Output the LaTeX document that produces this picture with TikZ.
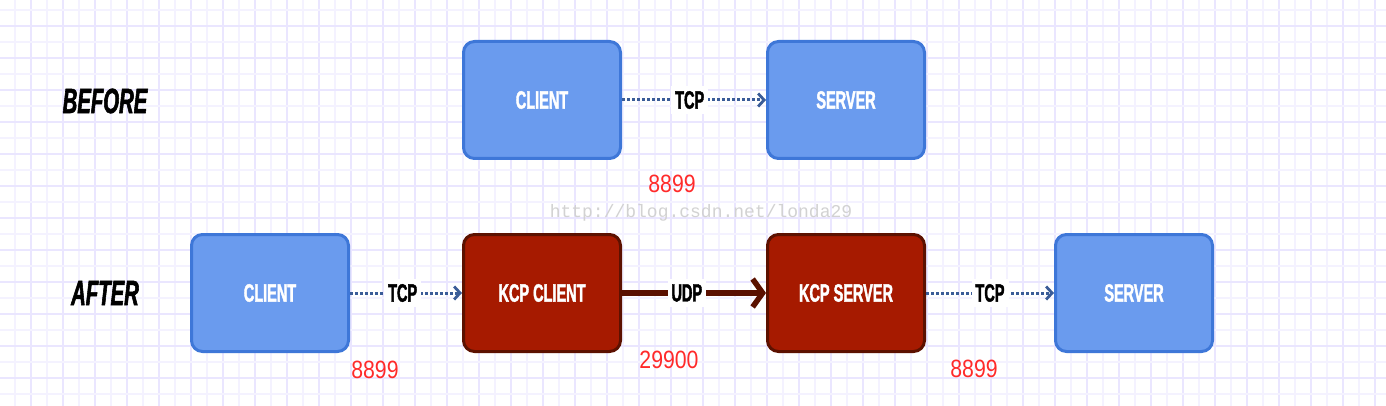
\documentclass[tikz,border=0pt]{standalone}
\usepackage{fontspec}
\usetikzlibrary{arrows.meta}
\newfontfamily\condfont[FakeStretch=0.58,FakeBold=1.6]{Liberation Sans}
\newfontfamily\numfont[FakeStretch=0.85]{Liberation Sans}
\newfontfamily\wmfont{Liberation Mono}
\definecolor{gridminor}{HTML}{F4F2FF}
\definecolor{gridmajor}{HTML}{EAE6FF}
\definecolor{bluefill}{HTML}{6A9BEE}
\definecolor{blueedge}{HTML}{3E77D8}
\definecolor{redfill}{HTML}{A61A00}
\definecolor{rededge}{HTML}{5C1100}
\definecolor{tcpline}{HTML}{3A5C98}
\definecolor{udpline}{HTML}{5A1000}
\definecolor{portred}{HTML}{FF2A2A}
\definecolor{wmgray}{HTML}{D2D2D2}
\tikzset{
  box/.style={rounded corners=11pt, line width=3pt, minimum width=157pt, minimum height=117pt,
    inner sep=0pt, text=white, font=\condfont\bfseries\fontsize{25}{25}\selectfont},
  bluebox/.style={box, fill=bluefill, draw=blueedge},
  redbox/.style={box, fill=redfill, draw=rededge},
  lbl/.style={fill=white, inner xsep=4pt, inner ysep=5pt, text=black, font=\condfont\bfseries\fontsize{25}{25}\selectfont},
  tcparrow/.style={draw=tcpline, line width=3pt, dash pattern=on 3pt off 2pt,
    -{Straight Barb[length=6pt,width=13pt,line width=2.8pt]}},
  udparrow/.style={draw=udpline, line width=5.5pt,
    -{Straight Barb[length=10pt,width=28pt,line width=5.5pt]}},
  stage/.style={font=\condfont\bfseries\itshape\fontsize{35}{35}\selectfont, text=black},
  port/.style={text=portred, font=\numfont\fontsize{25}{25}\selectfont},
}
\begin{document}
\begin{tikzpicture}[x=1pt,y=-1pt]
\useasboundingbox (0,0) rectangle (1386,406);
\fill[white] (0,0) rectangle (1386,406);
% grid
\foreach \k in {0,...,86} {
  \pgfmathsetmacro{\xx}{15+16*\k}
  \ifodd\k
    \draw[gridmajor, line width=1.6pt] (\xx,0) -- (\xx,406);
  \else
    \draw[gridminor, line width=1.6pt] (\xx,0) -- (\xx,406);
  \fi
}
\foreach \k in {0,...,24} {
  \pgfmathsetmacro{\yy}{10+16*\k}
  \ifodd\k
    \draw[gridmajor, line width=1.6pt] (0,\yy) -- (1386,\yy);
  \else
    \draw[gridminor, line width=1.6pt] (0,\yy) -- (1386,\yy);
  \fi
}
% labels
\node[stage] (before) at (105,101) {BEFORE};
\node[stage] (after) at (105,293) {AFTER};
% before row
\node[bluebox] (bclient) at (542,100) {CLIENT};
\node[bluebox] (bserver) at (846,100) {SERVER};
\draw[tcparrow] (bclient.east) -- node[lbl, pos=0.47] (btcp) {TCP} (bserver.west);
\node[port] (p1) at (672,184) {8899};
% watermark
\node[text=wmgray, font=\wmfont\fontsize{18}{18}\selectfont] (wm) at (701,213) {http://blog.csdn.net/londa29};
% after row
\node[bluebox] (aclient) at (270,293) {CLIENT};
\node[redbox] (kclient) at (542,293) {KCP CLIENT};
\node[redbox] (kserver) at (846,293) {KCP SERVER};
\node[bluebox] (aserver) at (1134,293) {SERVER};
\draw[tcparrow] (aclient.east) -- node[lbl, pos=0.47] (atcp1) {TCP} (kclient.west);
\draw[udparrow] (kclient.east) -- node[lbl, pos=0.45] (audp) {UDP} (kserver.west);
\draw[tcparrow] (kserver.east) -- node[lbl] (atcp2) {TCP} (aserver.west);
\node[port] (p2) at (375,370) {8899};
\node[port] (p3) at (669,360) {29900};
\node[port] (p4) at (974,369) {8899};
\end{tikzpicture}
\end{document}
